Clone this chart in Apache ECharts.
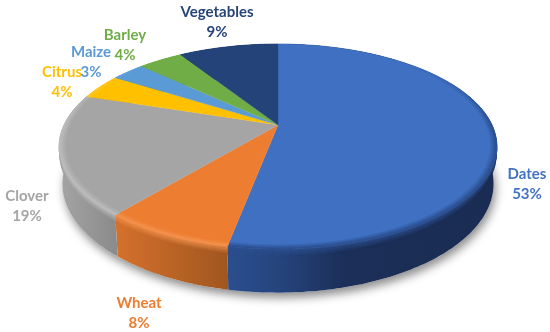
<!DOCTYPE html>
<html><head><meta charset="utf-8">
<style>html,body{margin:0;padding:0;background:#fff}#c{width:550px;height:332px}</style>
<script src="https://cdn.jsdelivr.net/npm/echarts@6/dist/echarts.min.js"></script>
</head><body><div id="c"></div>
<script>
const categories = ['Dates','Wheat','Clover','Citrus','Maize','Barley','Vegetables'];
const shares = [53,8,19,4,3,4,9];
const faceColors = ['#4070C2','#ED7D31','#A5A5A5','#FFC000','#5B9BD5','#70AD47','#234379'];
const textColors = ['#4472C4','#ED7D31','#A5A5A5','#FFC000','#5B9BD5','#70AD47','#264478'];
const edgeColors = ['#2C4F8E','#F3924E','#BDBDBD','#FFD050','#7FB3E0','#8CC466','#1C3360'];
const labelAnchors = [[527,174],[139,303],[27,196],[62,72],[91,52],[125,35],[217,12]];

const chart = echarts.init(document.getElementById('c'),null,{renderer:'canvas'});
const CX=278,CY=125,B=214,A=98,K=0.21,A2=104,DY=36,S2=0.985;
const total = shares.reduce((a,b)=>a+b,0);
const starts = shares.map((_,i)=>shares.slice(0,i).reduce((a,b)=>a+b,0)/total*Math.PI*2);
function upper(t,r){const u=Math.sin(t)*r,v=-Math.cos(t)*r,w=1-K*v;return [CX+B*u/w,CY+A*v/w];}
function lower(t){const u=Math.sin(t),v=-Math.cos(t),w=1-K*v;return [CX+B*S2*u/w,CY+DY+A2*v/w];}
function between(t,f){const p=upper(t,1),q=lower(t);return [p[0]+(q[0]-p[0])*f,p[1]+(q[1]-p[1])*f];}
function arc(f,a,b,r){const n=Math.max(2,Math.ceil((b-a)*60)),p=[];for(let i=0;i<=n;i++)p.push(f(a+(b-a)*i/n,r));return p;}
function hex(c){return c[0]==='#'?[1,3,5].map(i=>parseInt(c.substr(i,2),16)):c;}
function mixArr(a,b,t){const x=hex(a),y=hex(b);return x.map((v,i)=>Math.round(v+(y[i]-v)*t));}
function css(c){return 'rgb('+c.join(',')+')';}
function span(i,v){return [starts[i],starts[i]+v/total*Math.PI*2];}
const sideStops=[
 [[228,'#2B4E8E'],[280,'#25447D'],[345,'#1B2F58'],[500,'#1A2C52']],
 [[118,'#D4702C'],[230,'#9F561F']],
 [[60,'#A4A4A4'],[120,'#898989']],
 [[60,'#CC9900'],[120,'#CC9900']],[[60,'#4A7DAB'],[120,'#4A7DAB']],[[60,'#5A8A39'],[120,'#5A8A39']],[[60,'#1C3360'],[120,'#1C3360']]
];
function sideFill(i){
 const s=sideStops[i],x0=s[0][0],x1=s[s.length-1][0];
 return new echarts.graphic.LinearGradient(x0,0,x1,0,s.map(p=>({offset:(p[0]-x0)/(x1-x0),color:p[1]})),true);
}
function sideAt(i,x){
 const s=sideStops[i];
 if(x<=s[0][0])return hex(s[0][1]);
 for(let k=1;k<s.length;k++){if(x<=s[k][0])return mixArr(s[k-1][1],s[k][1],(x-s[k-1][0])/(s[k][0]-s[k-1][0]));}
 return hex(s[s.length-1][1]);
}
function frontness(t){const v=-Math.cos(t);return Math.min(1,Math.max(0,(v+0.7)/0.7));}
const option={
 animation:false,
 series:[
 {type:'custom',coordinateSystem:'none',silent:true,z:1,data:[total],
  renderItem(){return {type:'polygon',shape:{points:arc(lower,Math.PI*0.32,Math.PI*1.68)},
    style:{fill:'#fff',shadowBlur:10,shadowColor:'rgba(0,0,0,0.45)',shadowOffsetY:5,shadowOffsetX:2}};}},
 {type:'custom',coordinateSystem:'none',silent:true,z:2,data:shares.map((v,i)=>[i,v]),
  renderItem(p,api){const i=api.value(0),[a,b]=span(i,api.value(1));
    const kids=[{type:'polygon',shape:{points:arc(upper,a,b,1).concat(arc(lower,a,b).reverse())},style:{fill:sideFill(i)}}];
    const segs=Math.max(2,Math.ceil((b-a)*30)),m=5,depth=0.2;
    for(let s=0;s<segs;s++){const t0=a+(b-a)*s/segs,t1=a+(b-a)*(s+1)/segs,tm=(t0+t1)/2;
      for(let k=0;k<m;k++){const f0=depth*k/m,f1=depth*(k+1)/m;
        const end=sideAt(i,between(tm,f1)[0]);
        kids.push({type:'polygon',shape:{points:[between(t0,f0),between(t1,f0),between(t1,f1),between(t0,f1)]},
          style:{fill:css(mixArr(edgeColors[i],end,(k+1)/m)),stroke:css(mixArr(edgeColors[i],end,(k+1)/m)),lineWidth:0.4}});}}
    return {type:'group',children:kids};}},
 {type:'custom',coordinateSystem:'none',silent:true,z:3,data:shares.map((v,i)=>[i,v]),
  renderItem(p,api){const i=api.value(0),[a,b]=span(i,api.value(1));
    const kids=[{type:'polygon',shape:{points:[[CX,CY]].concat(arc(upper,a,b,1))},style:{fill:faceColors[i],stroke:faceColors[i],lineWidth:0.3}}];
    const segs=Math.max(2,Math.ceil((b-a)*30)),n=4,inner=0.972;
    for(let s=0;s<segs;s++){const t0=a+(b-a)*s/segs,t1=a+(b-a)*(s+1)/segs,tm=(t0+t1)/2,fr=frontness(tm);
      if(fr<=0)continue;
      for(let k=0;k<n;k++){const r0=inner+(1-inner)*k/n,r1=inner+(1-inner)*(k+1)/n;
        const col=css(mixArr(faceColors[i],edgeColors[i],fr*(k+1)/n));
        kids.push({type:'polygon',shape:{points:[upper(t0,r0),upper(t1,r0),upper(t1,r1),upper(t0,r1)]},
          style:{fill:col,stroke:col,lineWidth:0.4}});}}
    return {type:'group',children:kids};}},
 {type:'custom',coordinateSystem:'none',silent:true,z:5,data:shares.map((v,i)=>[i,v]),
  renderItem(p,api){const i=api.value(0),q=labelAnchors[i];
    const font={fontFamily:'Lato',fontWeight:'bold',fontSize:15,fill:textColors[i],align:'center',verticalAlign:'middle'};
    return {type:'group',children:[
      {type:'text',x:q[0],y:q[1],style:Object.assign({text:categories[i]},font)},
      {type:'text',x:q[0],y:q[1]+20,style:Object.assign({text:api.value(1)+'%'},font)}]};}}
 ]};
chart.setOption(option);
</script></body></html>
